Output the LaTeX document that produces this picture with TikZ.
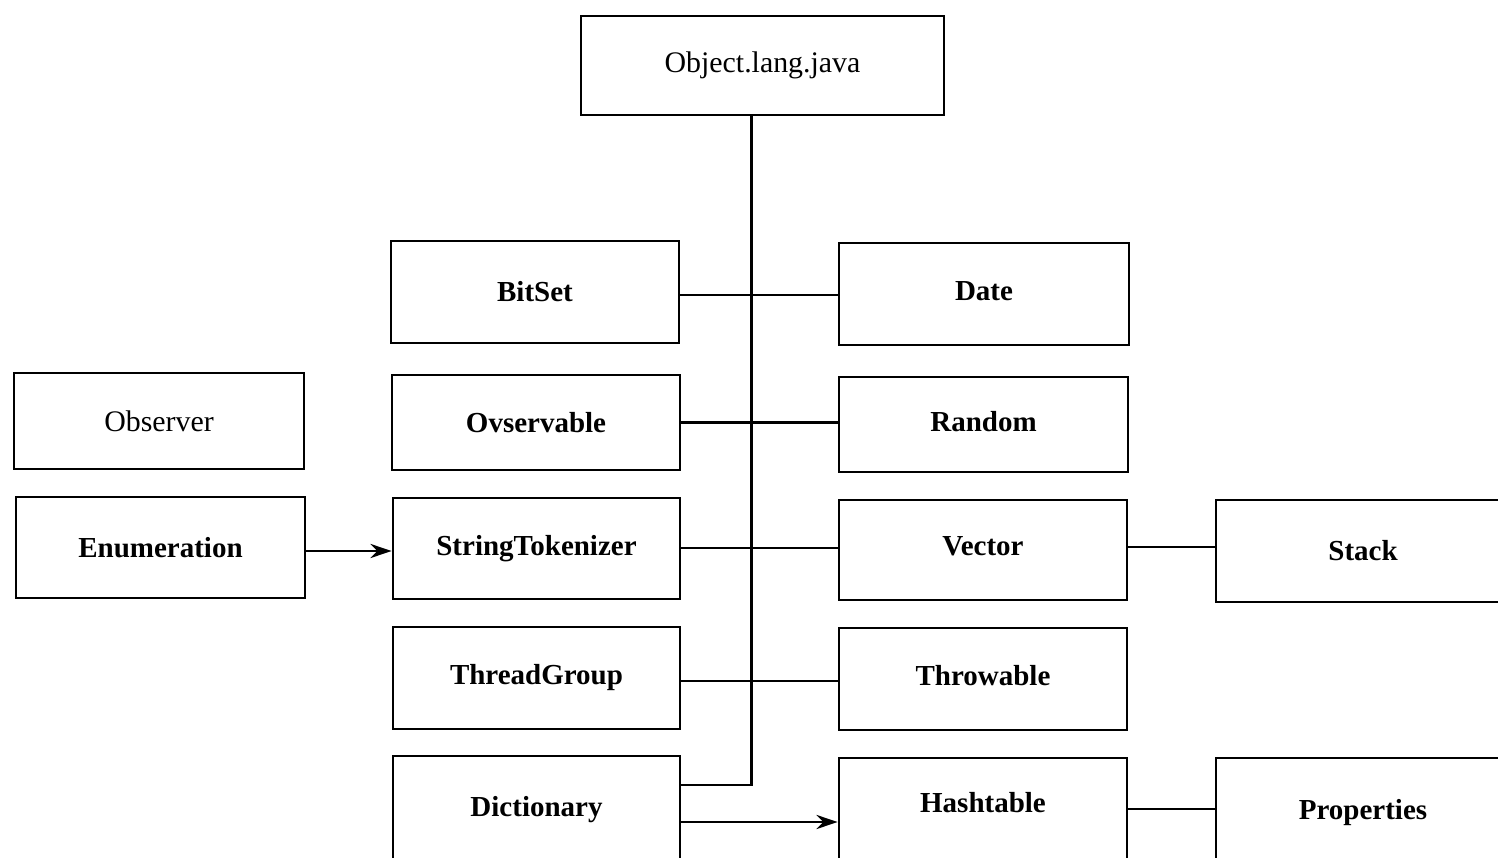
\documentclass[tikz,border=0pt]{standalone}
\usepackage{fontspec}
\setmainfont{Liberation Serif}
\usetikzlibrary{arrows.meta}
\begin{document}
\begin{tikzpicture}[x=0.02cm,y=-0.02cm,
  box/.style={draw,line width=1.6pt,rectangle,inner sep=0pt,minimum width=5.76cm,minimum height=2.04cm,font=\fontsize{16.5}{18}\selectfont\bfseries},
  lbox/.style={box,font=\fontsize{17}{18}\selectfont},
  link/.style={line width=1.7pt},
  thin link/.style={line width=1.3pt},
  arr/.style={line width=1.7pt,-{Stealth[length=12pt,width=8pt]}}]
\useasboundingbox (0,0) rectangle (1498,858);
\clip (0,0) rectangle (1498,858);
\node[lbox,minimum width=7.26cm,minimum height=1.98cm] (obj) at (762.5,65.5) {Object.lang.java};
\node[box] (bitset) at (535,292) {BitSet};
\node[box,minimum width=5.8cm] (date) at (984,294) {\raisebox{3pt}{Date}};
\node[lbox,minimum width=5.8cm,minimum height=1.92cm] (observer) at (159,421) {Observer};
\node[box,minimum height=1.9cm] (ovs) at (536,422.5) {Ovservable};
\node[box,minimum width=5.78cm,minimum height=1.9cm] (random) at (983.5,424.5) {\raisebox{4pt}{Random}};
\node[box,minimum width=5.78cm,minimum height=2.02cm] (enum) at (160.5,547.5) {Enumeration};
\node[box,minimum width=5.74cm,minimum height=2.02cm] (st) at (536.5,548.5) {StringTokenizer};
\node[box,minimum height=2cm] (vec) at (983,550) {\raisebox{4pt}{Vector}};
\node[box,minimum width=5.88cm] (stack) at (1363,551) {Stack};
\node[box,minimum width=5.74cm] (tg) at (536.5,678) {ThreadGroup};
\node[box] (thr) at (983,679) {\raisebox{4pt}{Throwable}};
\node[box,minimum width=5.74cm,minimum height=2.2cm] (dict) at (536.5,811) {\raisebox{5pt}{Dictionary}};
\node[box,minimum height=2.2cm] (hash) at (983,813) {\raisebox{12pt}{Hashtable}};
\node[box,minimum width=5.88cm,minimum height=2.2cm] (prop) at (1363,813) {Properties};
\coordinate (t) at (751,785);
\draw[link] (obj.south -| t) -- (t) -- (dict.east |- t);
\draw[thin link] (bitset.east |- 0,295) -- (date.west |- 0,295);
\draw[thin link] (ovs.east) -- (ovs.east -| random.west);
\draw[link] (st.east |- 0,548) -- (vec.west |- 0,548);
\draw[link] (tg.east |- 0,681) -- (thr.west |- 0,681);
\draw[link] (vec.east |- 0,547) -- (stack.west |- 0,547);
\draw[link] (hash.east |- 0,809) -- (prop.west |- 0,809);
\draw[arr] (enum.east |- 0,551) -- (st.west |- 0,551);
\draw[arr] (dict.east |- 0,822) -- (hash.west |- 0,822);
\end{tikzpicture}
\end{document}
